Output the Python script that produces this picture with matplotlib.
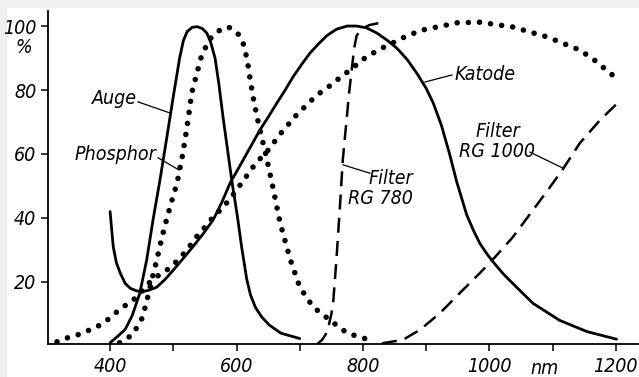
import matplotlib
matplotlib.use("Agg")
import matplotlib.pyplot as plt
from matplotlib.patches import Rectangle
from matplotlib import font_manager as fm

# ---------------- data ----------------
auge_x = [400, 412, 424, 435, 447, 458, 468, 479, 490, 500, 510, 516, 522, 530, 538, 546,
          553, 559, 566, 572, 579, 586, 593, 601, 608, 616, 622, 630, 640, 652, 670, 700]
auge_y = [1, 3, 5.2, 9.5, 16.5, 27, 39.5, 52, 65.5, 78, 90, 95.5, 98.3, 99.6, 99.8, 99.2,
          97.8, 95, 90, 82, 71, 61, 51, 41, 31, 21, 16, 12, 9, 6.5, 4, 2.3]

katode_x = [400, 405, 410, 416, 424, 432, 442, 452, 463, 474, 487, 500, 515, 531, 547, 563,
            577, 590, 603, 620, 637, 650, 664, 677, 689, 703, 716, 730, 743, 758, 775, 790,
            806, 822, 838, 854, 870, 886, 900, 911, 924, 937, 948, 964, 975, 985, 997, 1009,
            1022, 1038, 1069, 1111, 1154, 1201]
katode_y = [42, 31, 26, 22.8, 19.5, 18, 17.2, 17, 17.5, 18.4, 20.8, 23.7, 27.2, 31, 35, 39.4,
            45, 51, 55.5, 61.5, 67.5, 71.5, 76, 80, 84, 88, 91.5, 94.5, 97, 99, 100, 100,
            99.4, 97.8, 95.6, 93, 89.5, 85, 80.5, 76, 69, 60, 51.5, 41, 36, 32, 28.5, 25.5,
            22.5, 19.3, 13.3, 8, 4.5, 2.1]

phosphor_x = [415, 435, 443, 451, 458, 466, 474, 482, 490, 500, 506, 514, 519, 524, 529, 537,
              545, 558, 574, 587, 601, 610, 617, 621, 626, 632, 640, 645, 656, 669, 685, 700,
              721, 748, 775, 808]
phosphor_y = [1, 3.4, 6, 8.8, 14, 20.6, 27, 34, 40, 47, 51, 59, 65, 71.6, 79, 85,
              91, 96, 98.8, 99.7, 98, 95, 89.4, 84, 78, 72, 65, 61, 51, 38.4, 27, 18.4,
              12.2, 8, 4, 2]

broad_x = [316, 332, 348, 360, 376, 392, 405, 419, 435, 452, 466, 480, 495, 508, 519, 529,
           539, 553, 563, 577, 590, 610, 630, 650, 671, 692, 703, 727, 743, 769, 785, 795,
           824, 850, 870, 895, 917, 949, 985, 1037, 1091, 1143, 1170, 1186, 1196]
broad_y = [1.3, 2.5, 3.4, 4.4, 5.6, 7.5, 9.7, 12, 14, 17.5, 20.6, 22.5, 24.4, 27, 29.4, 32,
           34.7, 37.8, 40.3, 43, 46, 51.5, 57, 61.2, 66.7, 71.6, 73.8, 78.4, 80.6, 84.7, 87, 89,
           92.5, 95, 97, 98.8, 99.7, 101, 101.2, 99.7, 96.6, 92.5, 88.8, 86, 84.5]

rg780_x = [727, 735, 741, 746, 750, 753, 758, 764, 768, 774, 778, 782, 786, 790, 797, 810, 827]
rg780_y = [0.5, 1.8, 3.6, 6.5, 10, 14, 27, 45, 58, 70.6, 79, 86, 93, 97, 99, 100.3, 101]

rg1000_x = [830, 863, 890, 922, 953, 985, 1009, 1037, 1069, 1096, 1116, 1143, 1175, 1203]
rg1000_y = [0.8, 1.9, 5, 10.3, 16.5, 22.8, 27.8, 34, 42.5, 49.7, 55.2, 63.4, 70.6, 76]

x_ticks = [400, 500, 600, 700, 800, 900, 1000, 1100, 1200]
x_ticklabels = ["400", "", "600", "", "800", "", "1000", "", "1200"]
y_ticks = [20, 40, 60, 80, 100]
y_ticklabels = ["20", "40", "60", "80", "100"]

# ---------------- font choice ----------------
def pick_font():
    narrow = []
    for f in fm.fontManager.ttflist:
        n = f.name.lower()
        st = f.stretch
        cond = ('narrow' in n or 'condensed' in n or
                (isinstance(st, str) and 'condensed' in st) or
                (isinstance(st, (int, float)) and st < 500))
        if cond and f.weight in (400, 'normal', 'regular', 'book'):
            narrow.append(f)
    if narrow:
        ital = [f for f in narrow if f.style in ('italic', 'oblique')]
        f = (ital or narrow)[0]
        return fm.FontProperties(fname=f.fname), 14
    return fm.FontProperties(family='Liberation Sans', style='italic'), 13

base_fp, FS = pick_font()

def fp():
    p = base_fp.copy()
    p.set_size(FS)
    return p

fig = plt.figure(figsize=(6.39, 3.77), dpi=100)
fig.patch.set_facecolor('white')
fig.patches.append(Rectangle((0, 1 - 8 / 377), 1, 8 / 377, transform=fig.transFigure,
                             facecolor='#f0f0f0', edgecolor='none', zorder=-10))
fig.patches.append(Rectangle((0, 0), 7 / 639, 1, transform=fig.transFigure,
                             facecolor='#f0f0f0', edgecolor='none', zorder=-10))

ax = fig.add_axes([47.5 / 639, 33 / 377, (638 - 47.5) / 639, 333 / 377])
ax.set_xlim(301, 1235)
ax.set_ylim(0.6, 104.7)
ax.patch.set_alpha(0)

for s in ['top', 'right']:
    ax.spines[s].set_visible(False)
for s in ['left', 'bottom']:
    ax.spines[s].set_linewidth(1.3)

k = 'black'
ax.plot(auge_x, auge_y, color=k, lw=2.0, solid_capstyle='round', solid_joinstyle='round')
ax.plot(katode_x, katode_y, color=k, lw=2.0, solid_capstyle='round', solid_joinstyle='round')
ax.plot(phosphor_x, phosphor_y, color=k, lw=4.0, linestyle=(0, (0.01, 2.0)),
        dash_capstyle='round')
ax.plot(broad_x, broad_y, color=k, lw=4.0, linestyle=(0, (0.01, 2.0)),
        dash_capstyle='round')
ax.plot(rg780_x, rg780_y, color=k, lw=1.8, linestyle=(0, (6, 3.3)), dash_capstyle='butt')
ax.plot(rg1000_x, rg1000_y, color=k, lw=1.8, linestyle=(0, (6, 3.3)), dash_capstyle='butt')

ax.set_xticks(x_ticks)
ax.set_xticklabels(x_ticklabels)
ax.set_yticks(y_ticks)
ax.set_yticklabels(y_ticklabels)
for lab in ax.get_xticklabels() + ax.get_yticklabels():
    lab.set_fontproperties(fp())
ax.tick_params(axis='both', direction='out', length=5, width=1.1, color=k)
ax.tick_params(axis='x', pad=4.5)
ax.tick_params(axis='y', pad=3)

ax.text(264, 93.4, '%', ha='center', va='center', fontproperties=fp(), clip_on=False)
ax.annotate('nm', xy=(1087, 0), xycoords=('data', 'axes fraction'),
            xytext=(0, -21.5), textcoords='offset points', ha='center', va='baseline',
            fontproperties=fp())

def label(text, xy_text, p0, p1, ha='center'):
    ax.text(xy_text[0], xy_text[1], text, ha=ha, va='center', fontproperties=fp(),
            multialignment=ha, linespacing=1.05)
    ax.plot([p0[0], p1[0]], [p0[1], p1[1]], color=k, lw=0.9)

label('Auge', (442, 77.2), (444, 76.3), (495, 72.8), ha='right')
label('Phosphor', (473, 59.7), (476, 58.8), (509, 55), ha='right')
label('Filter\nRG 780', (879, 49.2), (768.4, 56.6), (811, 54), ha='right')
label('Katode', (944, 84.7), (898, 82.5), (940.7, 84.7), ha='left')
label('Filter\nRG 1000', (1012.6, 63.9), (1064, 60.6), (1116, 55.6))

fig.savefig('out.png', dpi=100)
